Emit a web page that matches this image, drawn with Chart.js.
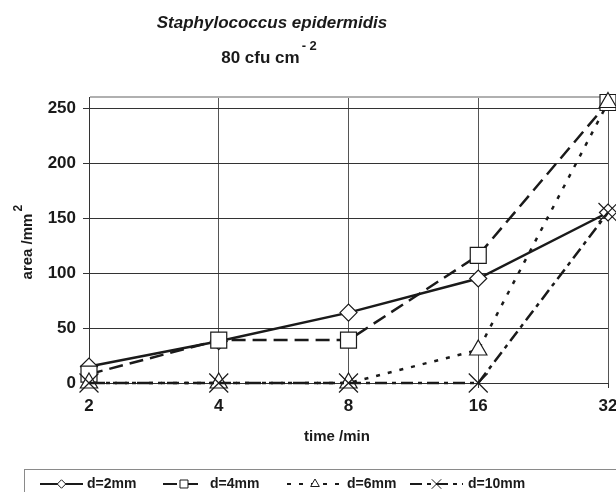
<!DOCTYPE html>
<html>
<head>
<meta charset="utf-8">
<script src="https://cdn.jsdelivr.net/npm/chart.js@4"></script>
<style>
  html, body { margin: 0; padding: 0; background: #fff; }
</style>
</head>
<body>
<canvas id="chart" width="616" height="492"></canvas>
<script>
// data
const times = ['2', '4', '8', '16', '32'];
const seriesNames = ['d=2mm', 'd=4mm', 'd=6mm', 'd=10mm'];
const d2mm = [15, 38, 64, 95, 155];
const d4mm = [8, 39, 39, 116, 255];
const d6mm = [0, 0, 0, 30, 255];
const d10mm = [0, 0, 0, 0, 155];
const yTicks = [0, 50, 100, 150, 200, 250];
const yTop = 260;

const FONT = '"Liberation Sans", Arial, sans-serif';
const INK = '#1a1a1a';

// legend layout: sample line start/end, text x
const legendItems = [
    { x0: 40, x1: 83, tx: 87 },
    { x0: 163, x1: 205, tx: 210 },
    { x0: 287, x1: 343, tx: 347 },
    { x0: 410, x1: 463, tx: 468 }
];

function makeSet(label, data, style, radius, dash, order) {
    return {
        label, data, order,
        borderColor: INK,
        borderWidth: 2.5,
        borderDash: dash,
        pointStyle: style,
        pointRadius: radius,
        pointHoverRadius: radius,
        pointBackgroundColor: '#fff',
        pointBorderColor: INK,
        pointBorderWidth: 1.2,
        tension: 0,
        clip: false,
        legendRadius: radius / 2
    };
}

const textPlugin = {
    id: 'texts',
    afterDraw(chart) {
        const ctx = chart.ctx;
        ctx.save();
        ctx.fillStyle = INK;
        ctx.textBaseline = 'middle';

        // title
        ctx.textAlign = 'center';
        ctx.font = 'bold italic 17px ' + FONT;
        ctx.fillText('Staphylococcus epidermidis', 272, 23);
        ctx.font = 'bold 17px ' + FONT;
        const main = '80 cfu cm';
        const mw = ctx.measureText(main).width;
        ctx.font = 'bold 13px ' + FONT;
        const sw = ctx.measureText('- 2').width;
        const sx = 269 - (mw + sw + 2) / 2;
        ctx.textAlign = 'left';
        ctx.font = 'bold 17px ' + FONT;
        ctx.fillText(main, sx, 58);
        ctx.font = 'bold 13px ' + FONT;
        ctx.fillText('- 2', sx + mw + 2, 46);

        // y title
        ctx.save();
        ctx.translate(28, 242);
        ctx.rotate(-Math.PI / 2);
        ctx.font = 'bold 15px ' + FONT;
        const yt = 'area /mm';
        const yw = ctx.measureText(yt).width;
        ctx.textAlign = 'left';
        ctx.fillText(yt, -(yw + 9) / 2, 0);
        ctx.font = 'bold 12px ' + FONT;
        ctx.fillText('2', -(yw + 9) / 2 + yw + 2, -9);
        ctx.restore();

        // x title
        ctx.textAlign = 'center';
        ctx.font = 'bold 15px ' + FONT;
        ctx.fillText('time /min', 337, 437);

        // legend
        ctx.strokeStyle = '#8a8a8a';
        ctx.lineWidth = 1;
        ctx.strokeRect(24.5, 469.5, 700, 100);
        const ly = 484;
        chart.data.datasets.forEach((ds, i) => {
            const it = legendItems[i];
            ctx.save();
            ctx.strokeStyle = ds.borderColor;
            ctx.lineWidth = 2;
            ctx.setLineDash(ds.borderDash || []);
            ctx.beginPath();
            ctx.moveTo(it.x0, ly);
            ctx.lineTo(it.x1, ly);
            ctx.stroke();
            ctx.setLineDash([]);
            ctx.fillStyle = '#fff';
            ctx.lineWidth = 1;
            Chart.helpers.drawPoint(ctx, {
                pointStyle: ds.pointStyle,
                radius: ds.legendRadius,
                rotation: 0,
                borderWidth: 1
            }, (it.x0 + it.x1) / 2, ly);
            ctx.restore();
            ctx.font = 'bold 14px ' + FONT;
            ctx.textAlign = 'left';
            ctx.fillText(ds.label, it.tx, ly);
        });
        ctx.restore();
    }
};

new Chart(document.getElementById('chart'), {
    type: 'line',
    data: {
        labels: times,
        datasets: [
            makeSet(seriesNames[0], d2mm, 'rectRot', 8.5, [], 4),
            makeSet(seriesNames[1], d4mm, 'rect', 11.3, [14, 7], 3),
            makeSet(seriesNames[2], d6mm, 'triangle', 10, [4, 8], 2),
            makeSet(seriesNames[3], d10mm, 'crossRot', 13.4, [12, 5, 4, 5], 1)
        ]
    },
    options: {
        responsive: false,
        animation: false,
        layout: { autoPadding: false, padding: { top: 97, right: 8, left: 0, bottom: 0 } },
        plugins: {
            legend: { display: false },
            tooltip: { enabled: false }
        },
        scales: {
            x: {
                type: 'category',
                offset: false,
                grid: { color: '#555', lineWidth: 1, tickLength: 5, tickColor: '#333' },
                border: { color: '#333', width: 1 },
                ticks: {
                    color: INK,
                    font: { family: FONT, size: 17, weight: 'bold' },
                    padding: 8,
                    maxRotation: 0
                },
                afterFit(scale) {
                    scale.height = 109;
                    scale.paddingLeft = 0;
                    scale.paddingRight = 0;
                }
            },
            y: {
                min: 0,
                max: yTop,
                afterBuildTicks(scale) {
                    scale.ticks = yTicks.concat([yTop]).map(v => ({ value: v }));
                },
                grid: {
                    color: c => c.tick && c.tick.value === yTop ? '#b0b0b0' : '#333',
                    lineWidth: c => c.tick && c.tick.value === yTop ? 2 : 1,
                    tickLength: 6,
                    tickColor: c => c.tick && c.tick.value === yTop ? 'rgba(0,0,0,0)' : '#333'
                },
                border: { color: '#333', width: 1 },
                ticks: {
                    color: INK,
                    font: { family: FONT, size: 17, weight: 'bold' },
                    padding: 7,
                    callback: v => v === yTop ? '' : v
                },
                afterFit(scale) {
                    scale.width = 89;
                    scale.paddingTop = 0;
                    scale.paddingBottom = 0;
                }
            }
        }
    },
    plugins: [textPlugin]
});
</script>
</body>
</html>
